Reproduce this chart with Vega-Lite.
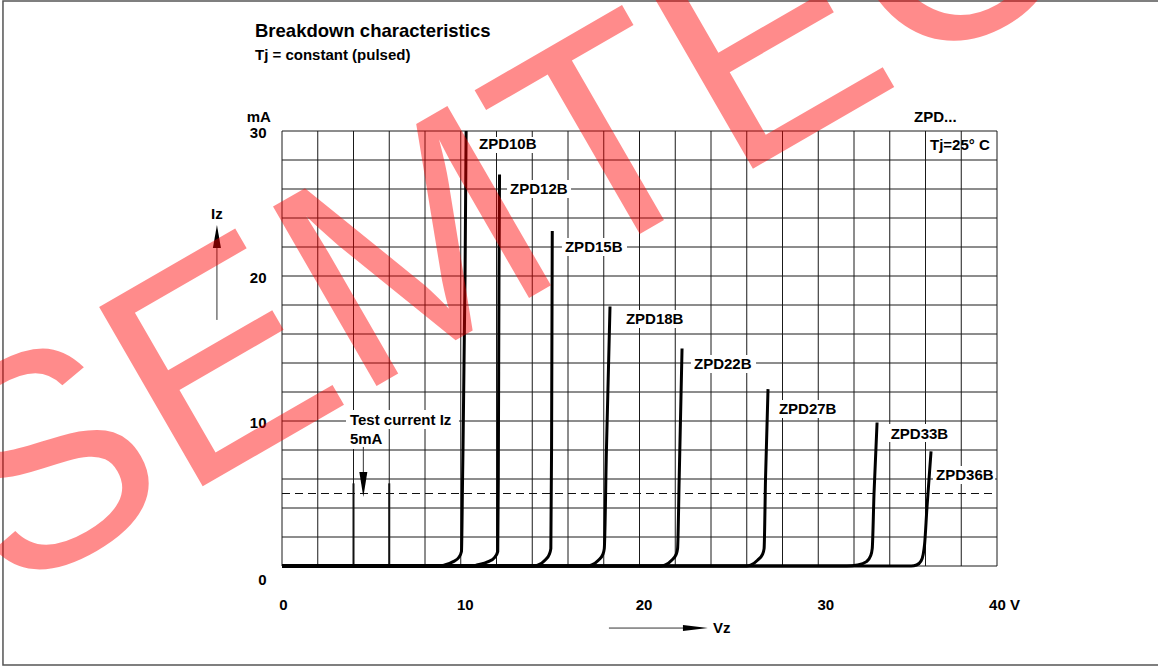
{
  "$schema": "https://vega.github.io/schema/vega-lite/v6.json",
  "width": 715,
  "height": 435,
  "autosize": {"type": "none"},
  "padding": {"left": 282, "top": 131, "right": 161, "bottom": 102},
  "background": "white",
  "config": {"view": {"stroke": null}, "text": {"font": "Liberation Sans"}},
  "datasets": {
    "border": [{"v": -15.61, "v2": 49.7, "i": 38.97, "i2": -6.83}],
    "vgrid": [{"v": 0, "i": 0, "i2": 30}, {"v": 2, "i": 0, "i2": 30}, {"v": 4, "i": 0, "i2": 30}, {"v": 6, "i": 0, "i2": 30}, {"v": 8, "i": 0, "i2": 30}, {"v": 10, "i": 0, "i2": 30}, {"v": 12, "i": 0, "i2": 30}, {"v": 14, "i": 0, "i2": 30}, {"v": 16, "i": 0, "i2": 30}, {"v": 18, "i": 0, "i2": 30}, {"v": 20, "i": 0, "i2": 30}, {"v": 22, "i": 0, "i2": 30}, {"v": 24, "i": 0, "i2": 30}, {"v": 26, "i": 0, "i2": 30}, {"v": 28, "i": 0, "i2": 30}, {"v": 30, "i": 0, "i2": 30}, {"v": 32, "i": 0, "i2": 30}, {"v": 34, "i": 0, "i2": 30}, {"v": 36, "i": 0, "i2": 30}, {"v": 38, "i": 0, "i2": 30}, {"v": 40, "i": 0, "i2": 30}],
    "hgrid": [{"i": 0, "v": 0, "v2": 40}, {"i": 2, "v": 0, "v2": 40}, {"i": 4, "v": 0, "v2": 40}, {"i": 6, "v": 0, "v2": 40}, {"i": 8, "v": 0, "v2": 40}, {"i": 10, "v": 0, "v2": 40}, {"i": 12, "v": 0, "v2": 40}, {"i": 14, "v": 0, "v2": 40}, {"i": 16, "v": 0, "v2": 40}, {"i": 18, "v": 0, "v2": 40}, {"i": 20, "v": 0, "v2": 40}, {"i": 22, "v": 0, "v2": 40}, {"i": 24, "v": 0, "v2": 40}, {"i": 26, "v": 0, "v2": 40}, {"i": 28, "v": 0, "v2": 40}, {"i": 30, "v": 0, "v2": 40}],
    "segs": [{"v": 4, "i": 0, "i2": 5.7}, {"v": 6, "i": 0, "i2": 5.7}],
    "testline": [{"i": 5, "v": 0, "v2": 40}],
    "boxes": [
      {"v": 10.85, "v2": 14.49, "i": 29.59, "i2": 28.48},
      {"v": 12.59, "v2": 16.17, "i": 26.62, "i2": 25.38},
      {"v": 15.66, "v2": 19.30, "i": 22.62, "i2": 21.38},
      {"v": 19.08, "v2": 22.77, "i": 17.66, "i2": 16.41},
      {"v": 22.88, "v2": 26.52, "i": 14.55, "i2": 13.31},
      {"v": 27.64, "v2": 31.33, "i": 11.45, "i2": 10.21},
      {"v": 33.85, "v2": 37.54, "i": 9.79, "i2": 8.55},
      {"v": 36.42, "v2": 39.89, "i": 6.90, "i2": 5.66},
      {"v": 3.58, "v2": 9.90, "i": 10.76, "i2": 9.45},
      {"v": 3.58, "v2": 5.82, "i": 9.45, "i2": 8.07}
    ],
    "curves": [
      {"d": "ZPD10B", "v": 0, "i": 0}, {"d": "ZPD10B", "v": 8.8, "i": 0}, {"d": "ZPD10B", "v": 9.1, "i": 0.07}, {"d": "ZPD10B", "v": 9.58, "i": 0.3}, {"d": "ZPD10B", "v": 9.9, "i": 0.6}, {"d": "ZPD10B", "v": 10.04, "i": 1.0}, {"d": "ZPD10B", "v": 10.1, "i": 5.9}, {"d": "ZPD10B", "v": 10.24, "i": 20}, {"d": "ZPD10B", "v": 10.3, "i": 30},
      {"d": "ZPD12B", "v": 0, "i": 0}, {"d": "ZPD12B", "v": 10.6, "i": 0}, {"d": "ZPD12B", "v": 10.9, "i": 0.07}, {"d": "ZPD12B", "v": 11.54, "i": 0.3}, {"d": "ZPD12B", "v": 11.9, "i": 0.6}, {"d": "ZPD12B", "v": 12.07, "i": 1.0}, {"d": "ZPD12B", "v": 12.1, "i": 6}, {"d": "ZPD12B", "v": 12.14, "i": 20}, {"d": "ZPD12B", "v": 12.17, "i": 27},
      {"d": "ZPD15B", "v": 0, "i": 0}, {"d": "ZPD15B", "v": 14.1, "i": 0}, {"d": "ZPD15B", "v": 14.34, "i": 0.07}, {"d": "ZPD15B", "v": 14.71, "i": 0.4}, {"d": "ZPD15B", "v": 14.95, "i": 0.8}, {"d": "ZPD15B", "v": 15.04, "i": 1.2}, {"d": "ZPD15B", "v": 15.08, "i": 8}, {"d": "ZPD15B", "v": 15.12, "i": 23.1},
      {"d": "ZPD18B", "v": 0, "i": 0}, {"d": "ZPD18B", "v": 17.1, "i": 0}, {"d": "ZPD18B", "v": 17.33, "i": 0.07}, {"d": "ZPD18B", "v": 17.7, "i": 0.4}, {"d": "ZPD18B", "v": 17.95, "i": 0.8}, {"d": "ZPD18B", "v": 18.03, "i": 1.2}, {"d": "ZPD18B", "v": 18.15, "i": 8}, {"d": "ZPD18B", "v": 18.35, "i": 17.9},
      {"d": "ZPD22B", "v": 0, "i": 0}, {"d": "ZPD22B", "v": 21.2, "i": 0}, {"d": "ZPD22B", "v": 21.45, "i": 0.07}, {"d": "ZPD22B", "v": 21.8, "i": 0.4}, {"d": "ZPD22B", "v": 22.05, "i": 0.8}, {"d": "ZPD22B", "v": 22.13, "i": 1.2}, {"d": "ZPD22B", "v": 22.22, "i": 6}, {"d": "ZPD22B", "v": 22.38, "i": 15},
      {"d": "ZPD27B", "v": 0, "i": 0}, {"d": "ZPD27B", "v": 26.0, "i": 0}, {"d": "ZPD27B", "v": 26.25, "i": 0.07}, {"d": "ZPD27B", "v": 26.6, "i": 0.4}, {"d": "ZPD27B", "v": 26.88, "i": 0.8}, {"d": "ZPD27B", "v": 26.97, "i": 1.2}, {"d": "ZPD27B", "v": 27.05, "i": 6}, {"d": "ZPD27B", "v": 27.19, "i": 12.2},
      {"d": "ZPD33B", "v": 0, "i": 0}, {"d": "ZPD33B", "v": 31.6, "i": 0}, {"d": "ZPD33B", "v": 32.2, "i": 0.07}, {"d": "ZPD33B", "v": 32.7, "i": 0.3}, {"d": "ZPD33B", "v": 32.93, "i": 0.7}, {"d": "ZPD33B", "v": 33.02, "i": 1.2}, {"d": "ZPD33B", "v": 33.12, "i": 5}, {"d": "ZPD33B", "v": 33.29, "i": 9.9},
      {"d": "ZPD36B", "v": 0, "i": 0}, {"d": "ZPD36B", "v": 35.2, "i": 0}, {"d": "ZPD36B", "v": 35.5, "i": 0.07}, {"d": "ZPD36B", "v": 35.75, "i": 0.35}, {"d": "ZPD36B", "v": 35.87, "i": 0.8}, {"d": "ZPD36B", "v": 35.95, "i": 1.5}, {"d": "ZPD36B", "v": 36.08, "i": 4}, {"d": "ZPD36B", "v": 36.31, "i": 7.9}
    ],
    "shafts": [
      {"v": 4.55, "i": 8.21, "v2": 4.55, "i2": 6.0},
      {"v": -3.64, "i": 16.97, "v2": -3.64, "i2": 22.5},
      {"v": 18.29, "i": -4.28, "v2": 22.6, "i2": -4.28}
    ],
    "headDown": [{"v": 4.55, "i": 5.62}],
    "headUp": [{"v": -3.64, "i": 22.72}],
    "headRight": [{"v": 23.13, "i": -4.28}],
    "labels": [
      {"t": "ZPD10B", "v": 11.02, "i": 28.74},
      {"t": "ZPD12B", "v": 12.76, "i": 25.66},
      {"t": "ZPD15B", "v": 15.83, "i": 21.66},
      {"t": "ZPD18B", "v": 19.24, "i": 16.69},
      {"t": "ZPD22B", "v": 23.05, "i": 13.59},
      {"t": "ZPD27B", "v": 27.80, "i": 10.48},
      {"t": "ZPD33B", "v": 34.05, "i": 8.78},
      {"t": "ZPD36B", "v": 36.59, "i": 5.93},
      {"t": "Test current Iz", "v": 3.80, "i": 9.72},
      {"t": "5mA", "v": 3.80, "i": 8.39},
      {"t": "Tj=25° C", "v": 36.25, "i": 28.69},
      {"t": "ZPD...", "v": 35.36, "i": 30.62},
      {"t": "Vz", "v": 24.11, "i": -4.62}
    ],
    "unitLabel": [{"t": "mA", "v": -0.62, "i": 30.62}],
    "izLabel": [{"t": "Iz", "v": -3.64, "i": 23.93}],
    "titleText": [{"t": "Breakdown characteristics", "v": -1.51, "i": 36.48}],
    "subtitleText": [{"t": "Tj = constant (pulsed)", "v": -1.51, "i": 34.90}],
    "watermark": [{"t": "SEMTECH", "v": -15.36, "i": -2.28}]
  },
  "encoding": {
    "x": {
      "field": "v", "type": "quantitative",
      "scale": {"domain": [0, 40], "nice": false, "zero": false},
      "axis": {
        "values": [0, 10, 20, 30, 40],
        "labelExpr": "datum.value == 40 ? '40 V' : datum.label",
        "grid": false, "ticks": false, "domain": false, "title": null,
        "labelFont": "Liberation Sans", "labelFontWeight": "bold", "labelFontSize": 15, "labelColor": "black",
        "labelPadding": 38, "labelBaseline": "middle", "labelFlush": false, "labelOverlap": false,
        "labelOffset": {"condition": [{"test": "datum.value == 0", "value": 1}, {"test": "datum.value >= 30", "value": 7}], "value": 4}
      }
    },
    "y": {
      "field": "i", "type": "quantitative",
      "scale": {"domain": [0, 30], "nice": false, "zero": false},
      "axis": {
        "values": [0, 10, 20, 30],
        "grid": false, "ticks": false, "domain": false, "title": null,
        "labelFont": "Liberation Sans", "labelFontWeight": "bold", "labelFontSize": 15, "labelColor": "black",
        "labelPadding": 16, "labelAlign": "right", "labelBaseline": "middle", "labelOverlap": false,
        "labelOffset": {"condition": {"test": "datum.value == 0", "value": 13}, "value": 1.5}
      }
    }
  },
  "layer": [
    {
      "data": {"name": "border"},
      "mark": {"type": "rect", "filled": false, "stroke": "#555555", "strokeWidth": 1.5},
      "encoding": {"x2": {"field": "v2"}, "y2": {"field": "i2"}}
    },
    {
      "data": {"name": "vgrid"},
      "mark": {"type": "rule", "color": "#1a1a1a", "strokeWidth": 1},
      "encoding": {"y2": {"field": "i2"}}
    },
    {
      "data": {"name": "hgrid"},
      "mark": {"type": "rule", "color": "#1a1a1a", "strokeWidth": 1},
      "encoding": {"x2": {"field": "v2"}}
    },
    {
      "data": {"name": "segs"},
      "mark": {"type": "rule", "color": "#111111", "strokeWidth": 2},
      "encoding": {"y2": {"field": "i2"}}
    },
    {
      "data": {"name": "testline"},
      "mark": {"type": "rule", "color": "#111111", "strokeWidth": 1, "strokeDash": [8, 5]},
      "encoding": {"x2": {"field": "v2"}}
    },
    {
      "data": {"name": "boxes"},
      "mark": {"type": "rect", "fill": "white", "strokeWidth": 0},
      "encoding": {"x2": {"field": "v2"}, "y2": {"field": "i2"}}
    },
    {
      "data": {"name": "curves"},
      "mark": {"type": "line", "color": "black", "strokeWidth": 3, "interpolate": "monotone"},
      "encoding": {"detail": {"field": "d"}}
    },
    {
      "data": {"name": "shafts"},
      "mark": {"type": "rule", "color": "#333333", "strokeWidth": 1},
      "encoding": {"x2": {"field": "v2"}, "y2": {"field": "i2"}}
    },
    {
      "data": {"name": "headDown"},
      "mark": {"type": "point", "shape": "M-0.32,-1L0.32,-1L0,1Z", "size": 625, "filled": true, "color": "black", "opacity": 1, "strokeWidth": 0},
      "encoding": {}
    },
    {
      "data": {"name": "headUp"},
      "mark": {"type": "point", "shape": "M-0.35,1L0.35,1L0,-1Z", "size": 529, "filled": true, "color": "black", "opacity": 1, "strokeWidth": 0},
      "encoding": {}
    },
    {
      "data": {"name": "headRight"},
      "mark": {"type": "point", "shape": "M-1,-0.24L1,0L-1,0.24Z", "size": 625, "filled": true, "color": "black", "opacity": 1, "strokeWidth": 0},
      "encoding": {}
    },
    {
      "data": {"name": "labels"},
      "mark": {"type": "text", "align": "left", "baseline": "alphabetic", "font": "Liberation Sans", "fontWeight": "bold", "fontSize": 15, "color": "black"},
      "encoding": {"text": {"field": "t"}}
    },
    {
      "data": {"name": "unitLabel"},
      "mark": {"type": "text", "align": "right", "baseline": "alphabetic", "font": "Liberation Sans", "fontWeight": "bold", "fontSize": 15, "color": "black"},
      "encoding": {"text": {"field": "t"}}
    },
    {
      "data": {"name": "izLabel"},
      "mark": {"type": "text", "align": "center", "baseline": "alphabetic", "font": "Liberation Sans", "fontWeight": "bold", "fontSize": 15, "color": "black"},
      "encoding": {"text": {"field": "t"}}
    },
    {
      "data": {"name": "titleText"},
      "mark": {"type": "text", "align": "left", "baseline": "alphabetic", "font": "Liberation Sans", "fontWeight": "bold", "fontSize": 18.5, "color": "black"},
      "encoding": {"text": {"field": "t"}}
    },
    {
      "data": {"name": "subtitleText"},
      "mark": {"type": "text", "align": "left", "baseline": "alphabetic", "font": "Liberation Sans", "fontWeight": "bold", "fontSize": 15, "color": "black"},
      "encoding": {"text": {"field": "t"}}
    },
    {
      "data": {"name": "watermark"},
      "mark": {"type": "text", "align": "left", "baseline": "alphabetic", "angle": -30, "font": "Liberation Sans", "fontWeight": "normal", "fontSize": 301, "color": "#ff0000", "opacity": 0.45},
      "encoding": {"text": {"field": "t"}}
    }
  ]
}
